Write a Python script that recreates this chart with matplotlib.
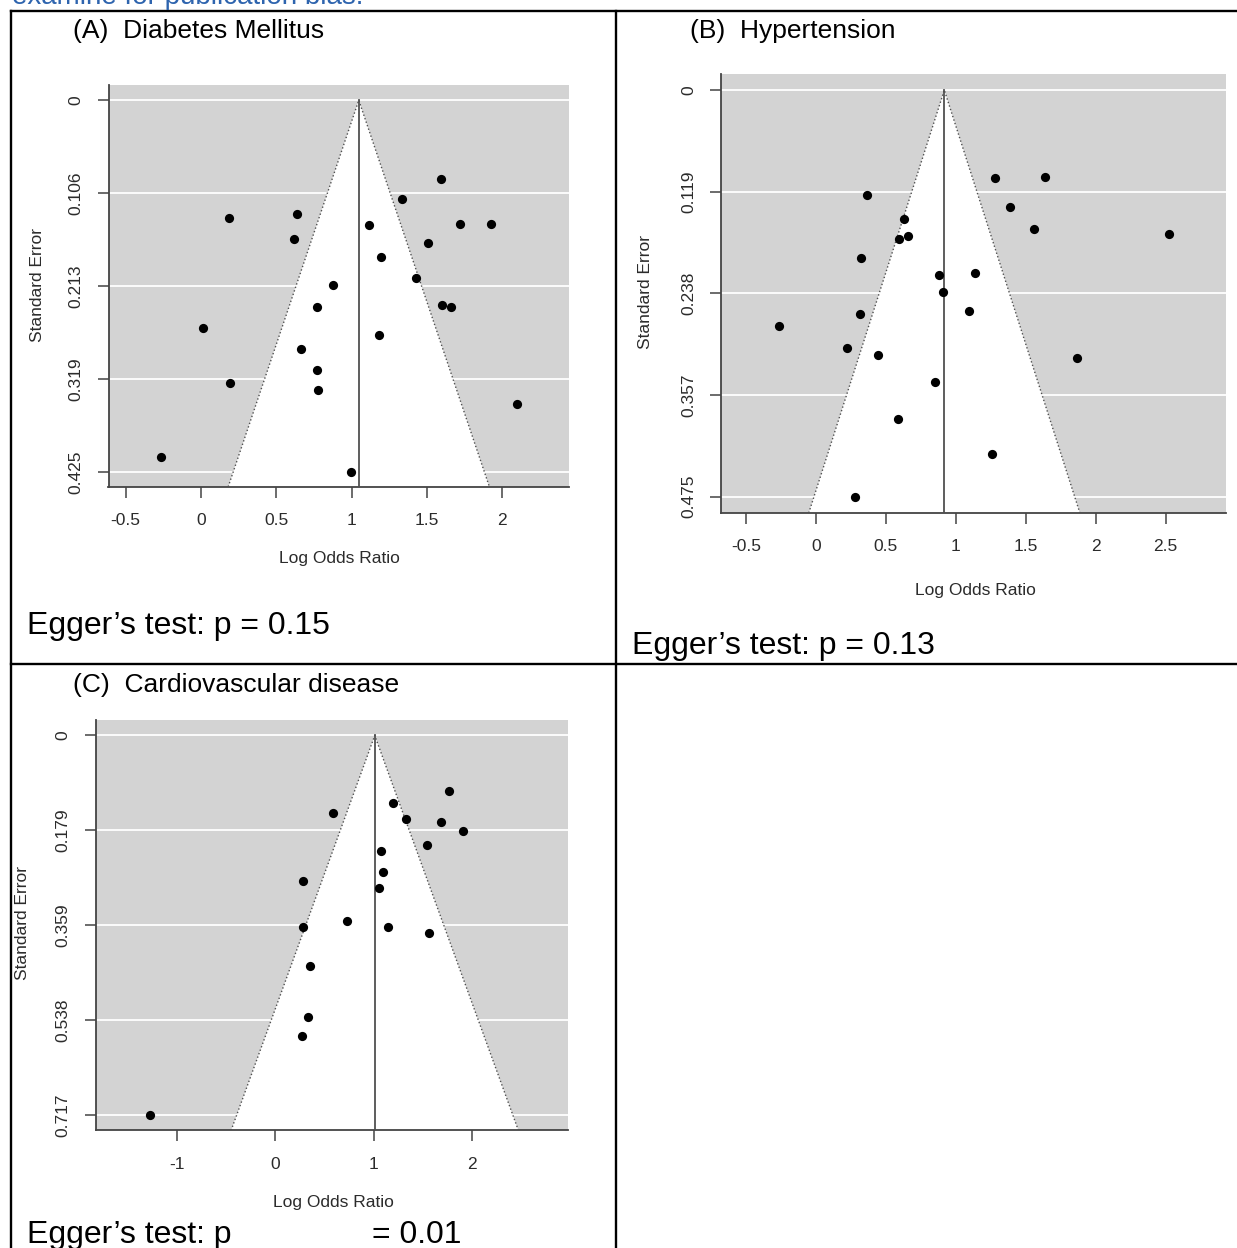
#!/usr/bin/env python
"""
Funnel plots (publication bias) for three outcomes, laid out in a table grid
"""

import numpy as np
import matplotlib
matplotlib.use('Agg')
import matplotlib.pyplot as plt
from matplotlib.lines import Line2D

plt.rcParams['font.family'] = ['Liberation Sans', 'DejaVu Sans']

# (A) Diabetes Mellitus
dm_lor = [1.596, 1.338, 0.186, 0.637, 1.119, 1.718, 1.926, 0.621, 1.504, 1.195,
          0.874, 1.428, 0.768, 1.602, 1.660, 0.017, 1.180, 0.666, 0.768, 0.191,
          0.779, 2.098, -0.263, 0.998]
dm_se = [0.0904, 0.1134, 0.1343, 0.1304, 0.1428, 0.1415, 0.1415, 0.1590, 0.1633, 0.1795,
         0.2110, 0.2038, 0.2366, 0.2340, 0.2370, 0.2604, 0.2690, 0.2847, 0.3090, 0.3240,
         0.3310, 0.3480, 0.4080, 0.4252]
dm_centre = 1.048
dm_xticks = [-0.5, 0, 0.5, 1, 1.5, 2]
dm_xlabels = ['-0.5', '0', '0.5', '1', '1.5', '2']
dm_ylabels = ['0', '0.106', '0.213', '0.319', '0.425']

# (B) Hypertension
ht_lor = [1.283, 1.640, 0.363, 1.389, 0.631, 1.563, 0.657, 0.594, 2.528, 0.326,
          0.882, 1.138, 0.907, 0.315, 1.093, -0.264, 0.221, 0.443, 1.865, 0.853,
          0.588, 1.258, 0.281]
ht_se = [0.1025, 0.1011, 0.1224, 0.1364, 0.1503, 0.1623, 0.1702, 0.1744, 0.1688, 0.1962,
         0.2166, 0.2143, 0.2356, 0.2616, 0.2579, 0.2755, 0.3015, 0.3098, 0.3135, 0.3409,
         0.3845, 0.4258, 0.4752]
ht_centre = 0.919
ht_xticks = [-0.5, 0, 0.5, 1, 1.5, 2, 2.5]
ht_xlabels = ['-0.5', '0', '0.5', '1', '1.5', '2', '2.5']
ht_ylabels = ['0', '0.119', '0.238', '0.357', '0.475']

# (C) Cardiovascular disease
cv_lor = [1.766, 1.192, 0.589, 1.329, 1.681, 1.907, 1.539, 1.078, 1.091, 0.278,
          1.054, 0.727, 0.278, 1.147, 1.560, 0.347, 0.330, 0.266, -1.275]
cv_se = [0.1041, 0.1283, 0.1468, 0.1568, 0.1632, 0.1796, 0.2060, 0.2188, 0.2580, 0.2751,
         0.2887, 0.3507, 0.3614, 0.3607, 0.3735, 0.4355, 0.5324, 0.5674, 0.7170]
cv_centre = 1.010
cv_xticks = [-1, 0, 1, 2]
cv_xlabels = ['-1', '0', '1', '2']
cv_ylabels = ['0', '0.179', '0.359', '0.538', '0.717']

W, H = 1237, 1248
fig = plt.figure(figsize=(W / 100, H / 100), dpi=100)


def px_box(l, t, r, b):
    return [l / W, 1 - b / H, (r - l) / W, (b - t) / H]


def fig_text(x, y, s, **kw):
    fig.text(x / W, 1 - y / H, s, **kw)


def funnel(box, lor, se, centre, xlim, xticks, xlabels, ylabels):
    ax = fig.add_axes(px_box(*box))
    se_max = max(se)
    ybot = se_max * 1.04
    ax.set_facecolor('#d3d3d3')
    ax.set_xlim(xlim)
    ax.set_ylim(ybot, -se_max * 0.04)
    yt = np.linspace(0, se_max, 5)
    for v in yt:
        ax.axhline(v, color='white', lw=1.3, zorder=1)
    fx = [centre - 1.96 * ybot, centre, centre + 1.96 * ybot]
    fy = [ybot, 0, ybot]
    ax.fill(fx, fy, color='white', lw=0, zorder=2)
    ax.plot(fx, fy, ls=':', color='#505050', lw=1.0, zorder=3)
    ax.plot([centre, centre], [0, ybot], color='#505050', lw=1.3, zorder=3)
    ax.scatter(lor, se, s=44, color='black', linewidths=0, zorder=4)
    for side in ['top', 'right']:
        ax.spines[side].set_visible(False)
    for side in ['left', 'bottom']:
        ax.spines[side].set_color('#444444')
        ax.spines[side].set_linewidth(1.3)
    ax.set_xticks(xticks)
    ax.set_xticklabels(xlabels)
    ax.set_yticks(yt)
    ax.set_yticklabels(ylabels, rotation=90, va='center')
    ax.tick_params(axis='both', direction='out', length=8, width=1.1,
                   color='#444444', labelcolor='#2b2b2b', labelsize=12.5)
    ax.tick_params(axis='x', pad=11)
    ax.tick_params(axis='y', pad=10)
    return ax


funnel((108.5, 85.3, 569, 486.8), dm_lor, dm_se, dm_centre, (-0.613, 2.443),
       dm_xticks, dm_xlabels, dm_ylabels)
funnel((721, 73.8, 1226, 512.9), ht_lor, ht_se, ht_centre, (-0.677, 2.932),
       ht_xticks, ht_xlabels, ht_ylabels)
funnel((95.8, 720.3, 568, 1130.4), cv_lor, cv_se, cv_centre, (-1.828, 2.976),
       cv_xticks, cv_xlabels, cv_ylabels)

# axis titles
lab = dict(fontsize=12.5, color='#2b2b2b', ha='center', va='center')
fig_text(339, 558, 'Log Odds Ratio', **lab)
fig_text(38, 285, 'Standard Error', rotation=90, **lab)
fig_text(975, 591, 'Log Odds Ratio', **lab)
fig_text(645, 292, 'Standard Error', rotation=90, **lab)
fig_text(333, 1203, 'Log Odds Ratio', **lab)
fig_text(23, 923, 'Standard Error', rotation=90, **lab)

# panel titles and Egger's test results
fig_text(73, 38, '(A)  Diabetes Mellitus', fontsize=19, va='baseline')
fig_text(690, 38, '(B)  Hypertension', fontsize=19, va='baseline')
fig_text(73, 692, '(C)  Cardiovascular disease', fontsize=19, va='baseline')
fig_text(27, 634, 'Egger\u2019s test: p = 0.15', fontsize=23, va='baseline')
fig_text(632, 654, 'Egger\u2019s test: p = 0.13', fontsize=23, va='baseline')
fig_text(27, 1243, 'Egger\u2019s test: p', fontsize=23, va='baseline')
fig_text(372, 1243, '= 0.01', fontsize=23, va='baseline')

# caption cut off at the top of the page (only its lower part shows)
fig_text(12, 4, 'examine for publication bias.', fontsize=20, color='#2E64AE',
         va='baseline')

# table grid
grid = [((11, 11), (1237, 11)), ((11, 11), (11, 1248)), ((616, 11), (616, 1248)),
        ((11, 663.5), (1237, 663.5))]
for (x0, y0), (x1, y1) in grid:
    fig.add_artist(Line2D([x0 / W, x1 / W], [1 - y0 / H, 1 - y1 / H],
                          transform=fig.transFigure, color='black', lw=1.7))

plt.savefig('out.png', dpi=100)
plt.close('all')
